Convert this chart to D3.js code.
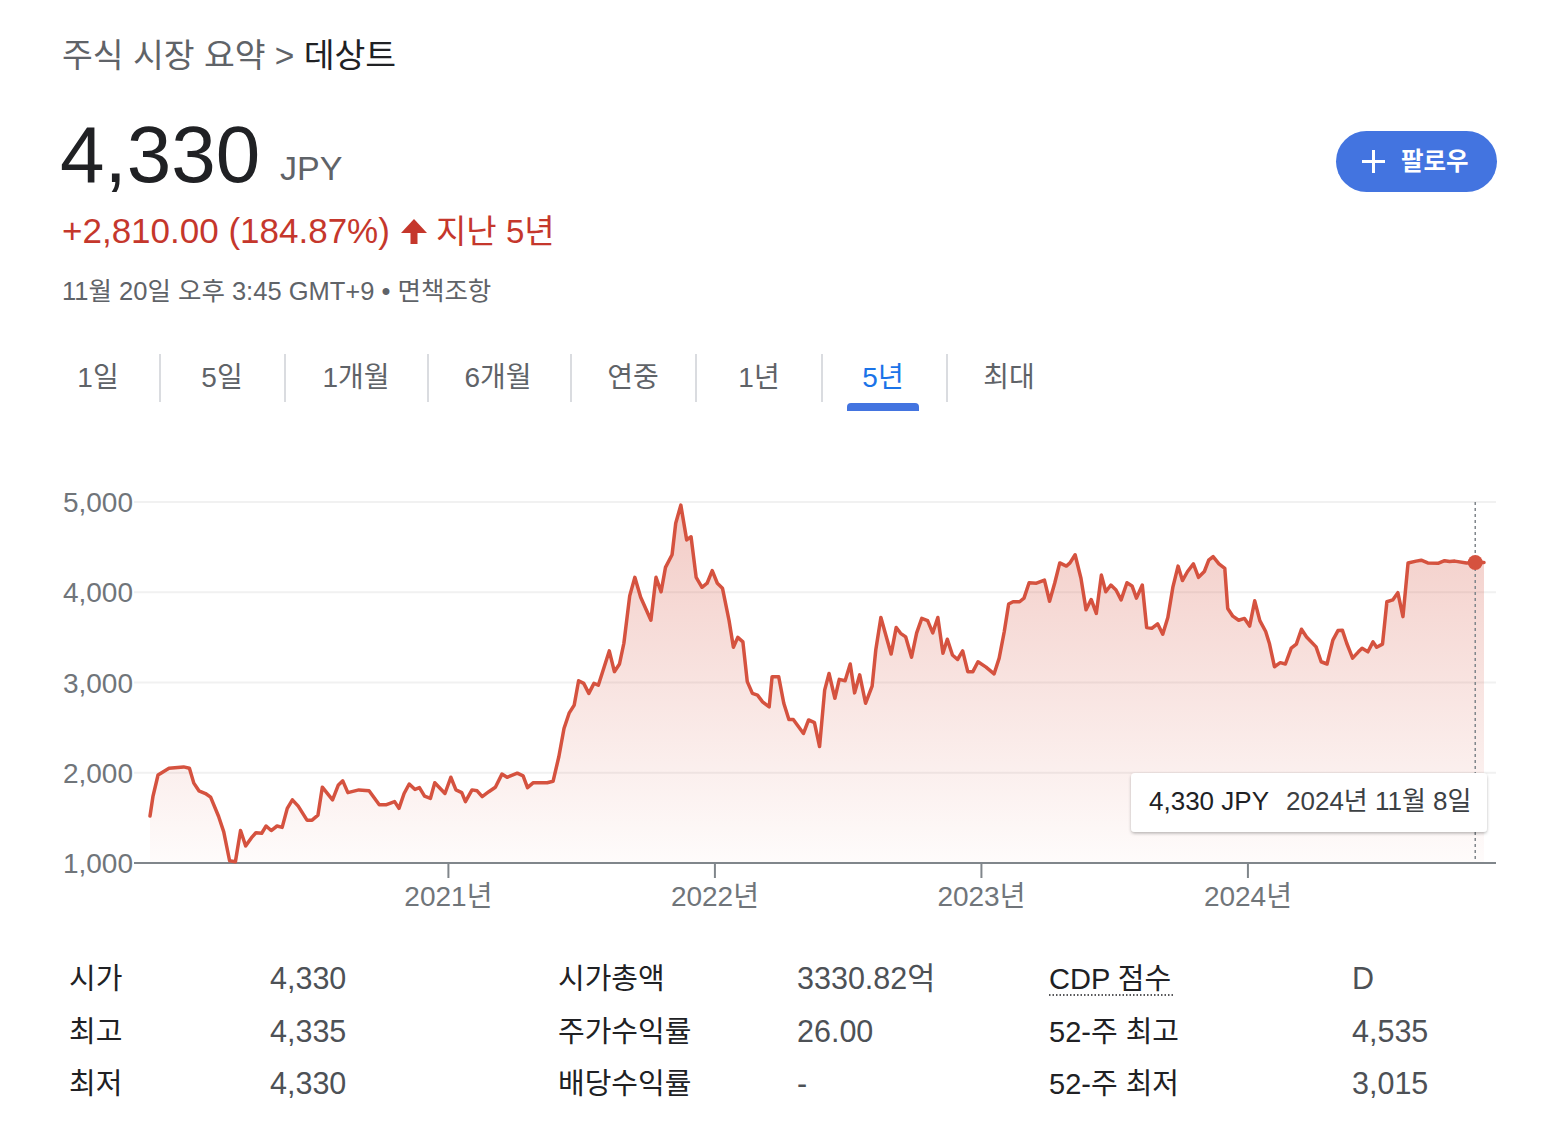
<!DOCTYPE html>
<html lang="ko">
<head>
<meta charset="utf-8">
<script src="https://cdn.jsdelivr.net/npm/d3@7"></script>
<style>
  html, body { margin: 0; padding: 0; background: #ffffff; }
  svg { display: block; font-family: "Liberation Sans", Arial, "Noto Sans CJK KR", sans-serif; }
</style>
</head>
<body>
<svg id="chart" width="1552" height="1148"></svg>
<script>
// ---------------- DATA ----------------
const dates2019_20 = ["2019-11-20","2019-11-24","2019-12-01","2019-12-16","2020-01-05","2020-01-13","2020-01-19","2020-01-26","2020-02-04","2020-02-11","2020-02-22","2020-02-29","2020-03-08","2020-03-16","2020-03-23","2020-03-30","2020-04-08","2020-04-13","2020-04-21","2020-04-27","2020-05-04","2020-05-12","2020-05-19","2020-05-26","2020-06-02","2020-06-10","2020-06-22","2020-06-29","2020-07-07","2020-07-13","2020-07-27","2020-08-04","2020-08-10","2020-08-17","2020-09-01","2020-09-15","2020-09-29","2020-10-08","2020-10-20","2020-10-26","2020-11-02","2020-11-09","2020-11-17","2020-11-23","2020-11-30","2020-12-08","2020-12-14","2020-12-28"];
const values2019_20 = [1520,1735,1975,2050,2065,2050,1885,1800,1770,1730,1515,1345,1025,1015,1360,1190,1290,1335,1330,1410,1360,1410,1395,1605,1700,1630,1475,1475,1530,1840,1700,1865,1910,1780,1810,1800,1645,1645,1680,1605,1770,1875,1815,1835,1740,1715,1890,1770];

const dates2021 = ["2021-01-05","2021-01-12","2021-01-20","2021-01-25","2021-02-03","2021-02-10","2021-02-17","2021-02-26","2021-03-07","2021-03-16","2021-03-23","2021-04-06","2021-04-14","2021-04-20","2021-04-28","2021-05-17","2021-05-25","2021-06-02","2021-06-09","2021-06-16","2021-06-23","2021-06-29","2021-07-06","2021-07-13","2021-07-20","2021-07-26","2021-08-10","2021-08-17","2021-08-24","2021-08-30","2021-09-07","2021-09-14","2021-09-22","2021-10-06","2021-10-13","2021-10-20","2021-10-26","2021-11-04","2021-11-09","2021-11-16","2021-11-24","2021-11-30","2021-12-07","2021-12-15","2021-12-22","2021-12-29"];
const values2021 = [1950,1810,1780,1680,1810,1800,1735,1790,1840,1985,1950,1995,1965,1835,1890,1890,1905,2180,2490,2660,2750,3020,2990,2880,2990,2970,3350,3120,3205,3435,3960,4165,3945,3690,4165,4005,4275,4415,4765,4965,4580,4615,4165,4055,4100,4240];

const dates2022 = ["2022-01-05","2022-01-12","2022-01-21","2022-01-27","2022-02-02","2022-02-09","2022-02-15","2022-02-22","2022-03-01","2022-03-08","2022-03-17","2022-03-21","2022-03-30","2022-04-06","2022-04-13","2022-04-19","2022-05-03","2022-05-10","2022-05-18","2022-05-25","2022-06-01","2022-06-07","2022-06-15","2022-06-21","2022-06-29","2022-07-06","2022-07-12","2022-07-19","2022-07-27","2022-08-05","2022-08-10","2022-08-17","2022-08-31","2022-09-07","2022-09-13","2022-09-20","2022-09-28","2022-10-05","2022-10-12","2022-10-20","2022-10-27","2022-11-03","2022-11-10","2022-11-16","2022-11-23","2022-11-30","2022-12-07","2022-12-14","2022-12-21","2022-12-28"];
const values2022 = [4100,4045,3690,3390,3500,3450,3010,2880,2860,2785,2730,3065,3065,2770,2590,2590,2435,2585,2555,2290,2915,3100,2825,3035,3020,3205,2885,3085,2770,2960,3360,3720,3315,3610,3545,3505,3280,3550,3710,3685,3550,3720,3325,3480,3305,3255,3350,3120,3120,3230];

const dates2023 = ["2023-01-08","2023-01-19","2023-01-26","2023-02-02","2023-02-08","2023-02-14","2023-02-23","2023-03-01","2023-03-08","2023-03-18","2023-03-29","2023-04-05","2023-04-12","2023-04-19","2023-04-28","2023-05-03","2023-05-10","2023-05-18","2023-05-25","2023-06-01","2023-06-08","2023-06-15","2023-06-21","2023-06-28","2023-07-05","2023-07-12","2023-07-20","2023-07-27","2023-08-02","2023-08-10","2023-08-16","2023-08-23","2023-08-31","2023-09-07","2023-09-14","2023-09-21","2023-09-28","2023-10-04","2023-10-11","2023-10-19","2023-10-26","2023-11-03","2023-11-09","2023-11-15","2023-11-23","2023-12-01","2023-12-05","2023-12-12","2023-12-20","2023-12-28"];
const values2023 = [3170,3095,3270,3565,3870,3895,3895,3935,4105,4100,4135,3900,4100,4325,4290,4325,4415,4155,3805,3920,3765,4190,4005,4080,4025,3915,4105,4070,3935,4080,3610,3600,3650,3535,3720,4060,4290,4130,4230,4315,4165,4230,4355,4395,4315,4265,3820,3735,3690,3710];

const dates2024 = ["2024-01-04","2024-01-11","2024-01-18","2024-01-26","2024-01-31","2024-02-07","2024-02-15","2024-02-22","2024-03-01","2024-03-08","2024-03-15","2024-03-22","2024-04-04","2024-04-11","2024-04-19","2024-04-27","2024-05-04","2024-05-10","2024-05-16","2024-05-24","2024-06-01","2024-06-06","2024-06-14","2024-06-21","2024-06-26","2024-07-04","2024-07-10","2024-07-18","2024-07-25","2024-08-01","2024-08-08","2024-08-19","2024-08-26","2024-09-04","2024-09-18","2024-09-27","2024-10-04","2024-10-11","2024-10-27","2024-11-08","2024-11-20"];
const values2024 = [3625,3905,3685,3565,3435,3175,3220,3205,3380,3425,3590,3505,3395,3230,3205,3470,3575,3580,3435,3270,3340,3380,3340,3450,3390,3425,3895,3915,3995,3730,4325,4345,4355,4325,4320,4350,4340,4345,4325,4330,4330];

const yTicks = [1000, 2000, 3000, 4000, 5000];
const xTickYears = ["2021-01-01","2022-01-01","2023-01-01","2024-01-01"];
const domainStart = "2019-11-20";
const domainEnd = "2024-11-20";

const tabs = ["1일","5일","1개월","6개월","연중","1년","5년","최대"];
const selectedTab = "5년";

const tooltipDate = "2024-11-08";
const tooltipValue = 4330;
const tooltipDateLabel = "2024년 11월 8일";

const statLabels1 = ["시가","최고","최저"];
const statValues1 = ["4,330","4,335","4,330"];
const statLabels2 = ["시가총액","주가수익률","배당수익률"];
const statValues2 = ["3330.82억","26.00","-"];
const statLabels3 = ["CDP 점수","52-주 최고","52-주 최저"];
const statValues3 = ["D","4,535","3,015"];

// ---------------- BUILD ----------------
const parse = d3.timeParse("%Y-%m-%d");
const allDates = [].concat(dates2019_20, dates2021, dates2022, dates2023, dates2024);
const allValues = [].concat(values2019_20, values2021, values2022, values2023, values2024);
const data = allDates.map((d, i) => ({ date: parse(d), value: allValues[i] }));

const svg = d3.select("#chart");
const LINE = "#d5523f";
const RED = "#c5372c";
const GREY = "#5f6368";
const DARK = "#202124";

// Header
const bc = svg.append("text").attr("x", 62).attr("y", 67).attr("font-size", 33.5).attr("fill", GREY);
bc.append("tspan").text("주식 시장 요약 > ");
bc.append("tspan").attr("fill", DARK).text("데상트");

svg.append("text").attr("x", 60).attr("y", 182).attr("font-size", 80).attr("fill", DARK).text("4,330");
svg.append("text").attr("x", 280).attr("y", 180).attr("font-size", 34).attr("fill", GREY).text("JPY");

svg.append("text").attr("x", 62).attr("y", 243).attr("font-size", 35).attr("fill", RED).text("+2,810.00 (184.87%)");
svg.append("polygon").attr("points", "401,233 414,219 427,233").attr("fill", RED);
svg.append("rect").attr("x", 410.5).attr("y", 230).attr("width", 7).attr("height", 14).attr("fill", RED);
svg.append("text").attr("x", 436).attr("y", 243).attr("font-size", 33).attr("fill", RED).text("지난 5년");

svg.append("text").attr("x", 62).attr("y", 300).attr("font-size", 25.5).attr("fill", GREY).text("11월 20일 오후 3:45 GMT+9 • 면책조항");

// Follow button
svg.append("rect").attr("x", 1336).attr("y", 131).attr("width", 161).attr("height", 61).attr("rx", 30.5).attr("fill", "#4374e0");
svg.append("line").attr("x1", 1362).attr("x2", 1385).attr("y1", 161.5).attr("y2", 161.5).attr("stroke", "#fff").attr("stroke-width", 3);
svg.append("line").attr("x1", 1373.5).attr("x2", 1373.5).attr("y1", 150).attr("y2", 173).attr("stroke", "#fff").attr("stroke-width", 3);
svg.append("text").attr("x", 1401).attr("y", 170).attr("font-size", 24.5).attr("font-weight", "bold").attr("fill", "#fff").text("팔로우");

// Tabs
const tabCenters = [98, 222, 356, 498, 633, 759, 883, 1009];
const sepX = [160, 285, 428, 571, 696, 822, 947];
svg.append("g").selectAll("line").data(sepX).join("line")
  .attr("x1", d => d).attr("x2", d => d).attr("y1", 354).attr("y2", 402)
  .attr("stroke", "#dadce0").attr("stroke-width", 2);
svg.append("g").selectAll("text").data(tabs).join("text")
  .attr("x", (d, i) => tabCenters[i]).attr("y", 387).attr("text-anchor", "middle")
  .attr("font-size", 28).attr("fill", d => d === selectedTab ? "#1a73e8" : GREY).text(d => d);
const selIdx = tabs.indexOf(selectedTab);
const uc = tabCenters[selIdx];
svg.append("path")
  .attr("d", `M${uc-36},411 L${uc-36},407 Q${uc-36},403 ${uc-32},403 L${uc+32},403 Q${uc+36},403 ${uc+36},407 L${uc+36},411 Z`)
  .attr("fill", "#4374e0");

// Chart scales
const x = d3.scaleTime().domain([parse(domainStart), parse(domainEnd)]).range([150, 1484]);
const y = d3.scaleLinear().domain([1000, 5000]).range([863, 502]);
const gridX0 = 134, gridX1 = 1496;

// gridlines
svg.append("g").selectAll("line").data(yTicks.filter(t => t !== 1000)).join("line")
  .attr("x1", gridX0).attr("x2", gridX1).attr("y1", d => y(d)).attr("y2", d => y(d))
  .attr("stroke", "#f1f1f1").attr("stroke-width", 2);

// y labels
svg.append("g").selectAll("text").data(yTicks).join("text")
  .attr("x", 133).attr("y", d => y(d) + 10).attr("text-anchor", "end")
  .attr("font-size", 28).attr("fill", "#70757a").text(d => d3.format(",")(d));

// area gradient
const defs = svg.append("defs");
const grad = defs.append("linearGradient").attr("id", "areaGrad")
  .attr("gradientUnits", "userSpaceOnUse").attr("x1", 0).attr("x2", 0).attr("y1", y(5000)).attr("y2", y(1000));
grad.append("stop").attr("offset", "0%").attr("stop-color", LINE).attr("stop-opacity", 0.3);
grad.append("stop").attr("offset", "100%").attr("stop-color", LINE).attr("stop-opacity", 0.02);

const filt = defs.append("filter").attr("id", "shadow").attr("x", "-10%").attr("y", "-30%").attr("width", "120%").attr("height", "170%");
filt.append("feDropShadow").attr("dx", 0).attr("dy", 1.5).attr("stdDeviation", 1.8).attr("flood-color", "#000").attr("flood-opacity", 0.28);

svg.append("path").datum(data)
  .attr("d", d3.area().x(d => x(d.date)).y0(y(1000)).y1(d => y(d.value)))
  .attr("fill", "url(#areaGrad)");

// baseline
svg.append("line").attr("x1", gridX0).attr("x2", gridX1).attr("y1", y(1000)).attr("y2", y(1000))
  .attr("stroke", "#80868b").attr("stroke-width", 2);

// x axis
const xAxis = d3.axisBottom(x)
  .tickValues(xTickYears.map(parse))
  .tickSize(15).tickPadding(8)
  .tickFormat(d => d.getFullYear() + "년");
const gx = svg.append("g").attr("transform", `translate(0,${y(1000)})`).call(xAxis);
gx.select(".domain").remove();
gx.selectAll(".tick line").attr("stroke", "#80868b").attr("stroke-width", 2);
gx.selectAll(".tick text").attr("font-size", 28).attr("fill", "#70757a")
  .attr("font-family", "\"Liberation Sans\", Arial, \"Noto Sans CJK KR\", sans-serif").attr("dy", "0.7em");

// line
svg.append("path").datum(data)
  .attr("d", d3.line().x(d => x(d.date)).y(d => y(d.value)))
  .attr("fill", "none").attr("stroke", LINE).attr("stroke-width", 3.5)
  .attr("stroke-linejoin", "round").attr("stroke-linecap", "round");

// hover marker
const tx = x(parse(tooltipDate));
svg.append("line").attr("x1", tx).attr("x2", tx).attr("y1", y(5000)).attr("y2", y(1000))
  .attr("stroke", "#80868b").attr("stroke-width", 1.5).attr("stroke-dasharray", "3,3");
svg.append("circle").attr("cx", tx).attr("cy", y(tooltipValue)).attr("r", 7.5).attr("fill", LINE);

// tooltip
svg.append("rect").attr("x", 1131).attr("y", 773).attr("width", 356).attr("height", 59).attr("rx", 4)
  .attr("fill", "#fff").attr("filter", "url(#shadow)");
const tt = svg.append("text").attr("x", 1149).attr("y", 810).attr("font-size", 26);
tt.append("tspan").attr("fill", DARK).text(d3.format(",")(tooltipValue) + " JPY");
tt.append("tspan").attr("x", 1286).attr("fill", "#3c4043").text(tooltipDateLabel);

// stats table
const rowY = [989, 1042, 1094];
const cols = [
  { lx: 69, vx: 270, labels: statLabels1, values: statValues1 },
  { lx: 558, vx: 797, labels: statLabels2, values: statValues2 },
  { lx: 1049, vx: 1352, labels: statLabels3, values: statValues3 }
];
cols.forEach(c => {
  c.labels.forEach((l, i) => {
    svg.append("text").attr("x", c.lx).attr("y", rowY[i]).attr("font-size", 29).attr("fill", DARK).text(l);
    svg.append("text").attr("x", c.vx).attr("y", rowY[i]).attr("font-size", 30.5).attr("fill", "#4d5156").text(c.values[i]);
  });
});
svg.append("line").attr("x1", 1049).attr("x2", 1173).attr("y1", 995).attr("y2", 995)
  .attr("stroke", DARK).attr("stroke-width", 1.5).attr("stroke-dasharray", "1.5,2");
</script>
</body>
</html>
